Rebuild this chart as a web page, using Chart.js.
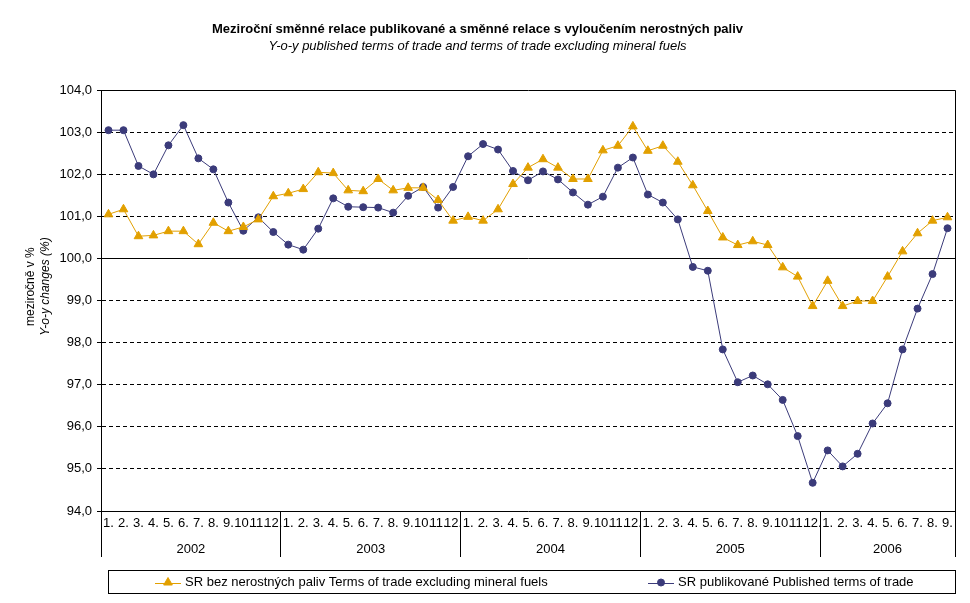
<!DOCTYPE html>
<html>
<head>
<meta charset="utf-8">
<script src="https://cdn.jsdelivr.net/npm/chart.js@4.4.0/dist/chart.umd.min.js"></script>
<style>
  html, body { margin: 0; padding: 0; background: #fff; }
</style>
</head>
<body>
<canvas id="chart" width="970" height="603"></canvas>
<script>
const years = ["2002", "2003", "2004", "2005", "2006"];
const monthsPerYear = [12, 12, 12, 12, 9];

// SR bez nerostných paliv (terms of trade excluding mineral fuels)
const excludingFuels = [
  101.05, 101.17, 100.53, 100.55, 100.65, 100.65, 100.34, 100.85, 100.65, 100.75, 100.93, 101.48,
  101.55, 101.65, 102.05, 102.03, 101.62, 101.60, 101.89, 101.62, 101.68, 101.68, 101.39, 100.90,
  100.99, 100.90, 101.17, 101.77, 102.16, 102.36, 102.16, 101.89, 101.89, 102.57, 102.68, 103.14,
  102.56, 102.68, 102.30, 101.74, 101.13, 100.50, 100.32, 100.41, 100.32, 99.79, 99.57, 98.87,
  99.47, 98.87, 98.99, 98.99, 99.57, 100.17, 100.60, 100.90, 100.98
];

// SR publikované (published terms of trade)
const published = [
  103.05, 103.05, 102.20, 102.00, 102.69, 103.17, 102.38, 102.12, 101.33, 100.66, 100.98, 100.63,
  100.33, 100.21, 100.71, 101.43, 101.23, 101.22, 101.21, 101.09, 101.49, 101.70, 101.21, 101.70,
  102.43, 102.72, 102.59, 102.08, 101.86, 102.07, 101.88, 101.57, 101.28, 101.47, 102.16, 102.40,
  101.52, 101.33, 100.93, 99.80, 99.71, 97.84, 97.06, 97.22, 97.01, 96.64, 95.78, 94.67,
  95.44, 95.06, 95.36, 96.08, 96.56, 97.84, 98.81, 99.63, 100.72
];

const yMin = 94, yMax = 104, yStep = 1;

const monthLabels = [];
monthsPerYear.forEach((n) => {
  for (let m = 1; m <= n; m++) monthLabels.push(m + ".");
});

const FONT = '"Liberation Sans", Arial, sans-serif';
const GOLD = "#e2a000";
const NAVY = "#3b3b7a";

function marker(ctx, style, r, x, y) {
  if (Chart.helpers && Chart.helpers.drawPoint) {
    Chart.helpers.drawPoint(ctx, { pointStyle: style, radius: r, rotation: 0, borderWidth: 1 }, x, y);
  }
}

// year row under the month labels
const yearAxis = {
  id: "yearAxis",
  afterDraw(chart) {
    const { ctx, scales: { x }, chartArea } = chart;
    ctx.save();
    ctx.font = "13px " + FONT;
    ctx.fillStyle = "#000";
    ctx.textAlign = "center";
    ctx.textBaseline = "middle";
    let start = 0;
    years.forEach((yr, i) => {
      const n = monthsPerYear[i];
      const cx = (x.getPixelForValue(start) + x.getPixelForValue(start + n - 1)) / 2;
      ctx.fillText(yr, cx, chartArea.bottom + 38);
      start += n;
    });
    ctx.restore();
  },
};

// two-line y axis title, second line italic
const yTitle = {
  id: "yTitle",
  afterDraw(chart) {
    const { ctx, chartArea } = chart;
    const cy = (chartArea.top + chartArea.bottom) / 2 - 14;
    ctx.save();
    ctx.fillStyle = "#000";
    ctx.textAlign = "center";
    ctx.textBaseline = "middle";
    ctx.translate(31, cy);
    ctx.rotate(-Math.PI / 2);
    ctx.font = "12px " + FONT;
    ctx.fillText("meziročně v %", 0, 0);
    ctx.font = "italic 12px " + FONT;
    ctx.fillText("Y-o-y changes (%)", 0, 15);
    ctx.restore();
  },
};

// boxed legend, line + marker for each series
const boxLegend = {
  id: "boxLegend",
  afterDraw(chart) {
    const { ctx, chartArea } = chart;
    const left = chartArea.left + 7;
    const top = chartArea.bottom + 59;
    const h = 23;
    ctx.save();
    ctx.strokeStyle = "#000";
    ctx.lineWidth = 1;
    ctx.strokeRect(Math.round(left) + 0.5, Math.round(top) + 0.5, Math.round(chartArea.right - left), h);
    const cy = top + h / 2 + 1;
    const starts = [left + 47, left + 540];
    ctx.font = "13px " + FONT;
    ctx.textBaseline = "middle";
    chart.data.datasets.forEach((ds, i) => {
      const sx = starts[i];
      ctx.strokeStyle = ds.borderColor;
      ctx.fillStyle = ds.pointBackgroundColor;
      ctx.lineWidth = 1;
      ctx.beginPath();
      ctx.moveTo(sx, Math.round(cy) + 0.5);
      ctx.lineTo(sx + 26, Math.round(cy) + 0.5);
      ctx.stroke();
      marker(ctx, ds.pointStyle, ds.pointRadius, sx + 13, cy);
      ctx.fillStyle = "#000";
      ctx.fillText(ds.label, sx + 30, cy);
    });
    ctx.restore();
  },
};

new Chart(document.getElementById("chart"), {
  type: "line",
  data: {
    labels: monthLabels,
    datasets: [
      {
        label: "SR bez nerostných paliv Terms of trade excluding mineral fuels",
        data: excludingFuels,
        borderColor: GOLD,
        backgroundColor: GOLD,
        pointBackgroundColor: GOLD,
        pointBorderColor: GOLD,
        pointStyle: "triangle",
        pointRadius: 5,
        borderWidth: 1,
        tension: 0,
      },
      {
        label: "SR publikované Published terms of trade",
        data: published,
        borderColor: NAVY,
        backgroundColor: NAVY,
        pointBackgroundColor: NAVY,
        pointBorderColor: NAVY,
        pointStyle: "circle",
        pointRadius: 3.5,
        borderWidth: 1,
        tension: 0,
      },
    ],
  },
  options: {
    responsive: false,
    animation: false,
    layout: { padding: { left: 0, right: 15, top: 0, bottom: 42 } },
    plugins: {
      legend: { display: false },
      tooltip: { enabled: false },
      title: {
        display: true,
        text: "Meziroční směnné relace publikované a směnné relace s vyloučením nerostných paliv",
        color: "#000",
        font: { family: FONT, size: 13, weight: "bold" },
        padding: { top: 22, bottom: 0 },
      },
      subtitle: {
        display: true,
        text: "Y-o-y published terms of trade and terms of trade excluding mineral fuels",
        color: "#000",
        font: { family: FONT, size: 13, style: "italic" },
        padding: { top: 1, bottom: 36 },
      },
    },
    scales: {
      x: {
        type: "category",
        offset: true,
        afterFit: (s) => { s.height = 50; },
        grid: {
          offset: true,
          drawOnChartArea: true,
          drawTicks: true,
          tickLength: 46,
          color: (c) => (c.index === undefined ? "#000" : "rgba(0,0,0,0)"),
          tickColor: (c) => (c.index === undefined || c.index % 12 === 0 ? "#000" : "rgba(0,0,0,0)"),
        },
        border: { display: true, color: "#000", width: 1 },
        ticks: {
          autoSkip: false,
          maxRotation: 0,
          minRotation: 0,
          padding: -41,
          color: "#000",
          font: { family: FONT, size: 13 },
        },
      },
      y: {
        min: yMin,
        max: yMax,
        afterFit: (s) => { s.width = 101; },
        grid: {
          color: "#000",
          lineWidth: 1,
          drawTicks: true,
          tickLength: 4,
          tickColor: "#000",
        },
        border: {
          display: true,
          color: "#000",
          width: 1,
          dash: (c) => (c.tick && c.tick.value !== 100 && c.tick.value !== 104 ? [4, 3] : []),
        },
        ticks: {
          stepSize: yStep,
          padding: 5,
          color: "#000",
          font: { family: FONT, size: 13 },
          callback: (v) => v.toFixed(1).replace(".", ","),
        },
      },
    },
  },
  plugins: [yearAxis, yTitle, boxLegend],
});
</script>
</body>
</html>
